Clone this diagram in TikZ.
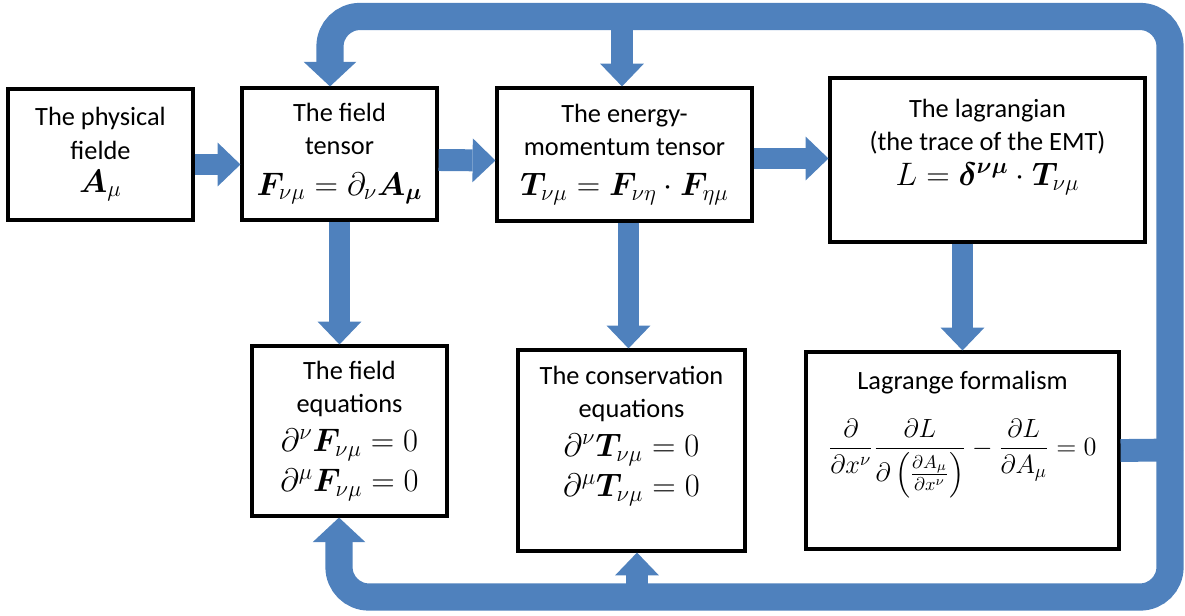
\RequirePackage{fix-cm}
\documentclass[tikz,border=0pt]{standalone}
\usepackage{amsmath,bm}
\usepackage{fontspec}
\setmainfont{Carlito}
\usetikzlibrary{arrows.meta,calc}
\definecolor{flowblue}{RGB}{79,129,189}
\newcommand{\eqline}[1]{{\fontsize{18.5}{22.5}\selectfont$#1$}}

\begin{document}
\begin{tikzpicture}[
    x=0.02cm, y=-0.02cm,
    box/.style={draw, line width=1.8pt, align=center, inner sep=0pt,
        font=\fontsize{15}{18.8}\selectfont},
    flow/.style={draw=flowblue, line width=12.5pt,
        -{Triangle[length=13pt,width=25pt,line width=0pt]}},
    band/.style={draw=flowblue, line width=15.5pt, rounded corners=17pt,
        -{Triangle[length=14pt,width=30pt,line width=0pt]}}
]
    \useasboundingbox (0,0) rectangle (1185,615);

    % top row
    \node [box, minimum width=3.7cm, minimum height=2.62cm] (phys) at (100.5,154.5)
        {The physical\\fielde\\\eqline{\bm{A}_\mu}};
    \node [box, minimum width=3.9cm, minimum height=2.64cm] (ften) at (339.5,154)
        {The field\\tensor\\[4pt]\eqline{\bm{F}_{\nu\mu}=\partial_\nu\bm{A_\mu}}};
    \node [box, minimum width=5.1cm, minimum height=2.66cm] (emt) at (624.5,154.5)
        {The energy-\\momentum tensor\\[4pt]\eqline{\bm{T}_{\nu\mu}=\bm{F}_{\nu\eta}\cdot\bm{F}_{\eta\mu}}};
    \node [box, minimum width=6.3cm, minimum height=3.28cm] (lag) at (987.5,160)
        {The lagrangian\\(the trace of the EMT)\\[1pt]\eqline{L=\bm{\delta^{\nu\mu}}\cdot\bm{T}_{\nu\mu}}\\[1pt]\mbox{}};

    % bottom row
    \node [box, minimum width=3.9cm, minimum height=3.4cm] (feq) at (349.5,431)
        {The field\\equations\\[3pt]\eqline{\partial^\nu\bm{F}_{\nu\mu}=0}\\[4pt]\eqline{\partial^\mu\bm{F}_{\nu\mu}=0}};
    \node [box, minimum width=4.54cm, minimum height=4.02cm] (cons) at (631.5,450.5)
        {The conservation\\equations\\[3pt]\eqline{\partial^\nu\bm{T}_{\nu\mu}=0}\\[4pt]\eqline{\partial^\mu\bm{T}_{\nu\mu}=0}\\[3pt]\mbox{}};
    \node [box, minimum width=6.26cm, minimum height=3.94cm] (lform) at (962.5,450.5)
        {Lagrange formalism\\[13pt]
        $\dfrac{\partial}{\partial x^\nu}\dfrac{\partial L}{\partial\left(\frac{\partial A_\mu}{\partial x^\nu}\right)}-\dfrac{\partial L}{\partial A_\mu}=0$\\[17pt]\mbox{}};

    % arrows between boxes
    \coordinate (emtr) at ($(emt.east)+(0,4)$);
    \coordinate (emtb) at ($(emt.south)+(4,0)$);
    \draw [flow] ($(phys.east)+(0,10)$) -- ($(ften.west)+(0,10.5)$);
    \draw [flow] ($(ften.east)+(0,6)$) -- ($(emt.west)+(0,6)$);
    \draw [flow] (emtr) -- (emtr -| lag.west);
    \draw [flow] (ften.south) -- (ften.south |- feq.north);
    \draw [flow] (emtb) -- (emtb |- cons.north);
    \draw [flow] (lag.south -| lform.north) -- (lform.north);

    % feedback loop
    \coordinate (jr) at (1170,450);
    \coordinate (tr) at (1170,16.5);
    \coordinate (br) at (1170,597);
    \coordinate (ftin) at ($(ften.north)+(-9.5,0)$);
    \coordinate (fqin) at ($(feq.south)+(-10.5,0)$);
    \coordinate (etop) at ($(emt.north)+(-2.5,0)$);
    \coordinate (cbot) at ($(cons.south)+(5.5,0)$);

    \draw [draw=flowblue, line width=13pt] (lform.east) -- (jr);
    \draw [band] (jr) -- (tr) -- (tr -| ftin) -- (ftin);
    \draw [band] (jr) -- (br) -- (br -| fqin) -- (fqin);
    \draw [flow] (etop |- tr) -- (etop);
    \draw [flow] (cbot |- br) -- (cbot);
\end{tikzpicture}
\end{document}
